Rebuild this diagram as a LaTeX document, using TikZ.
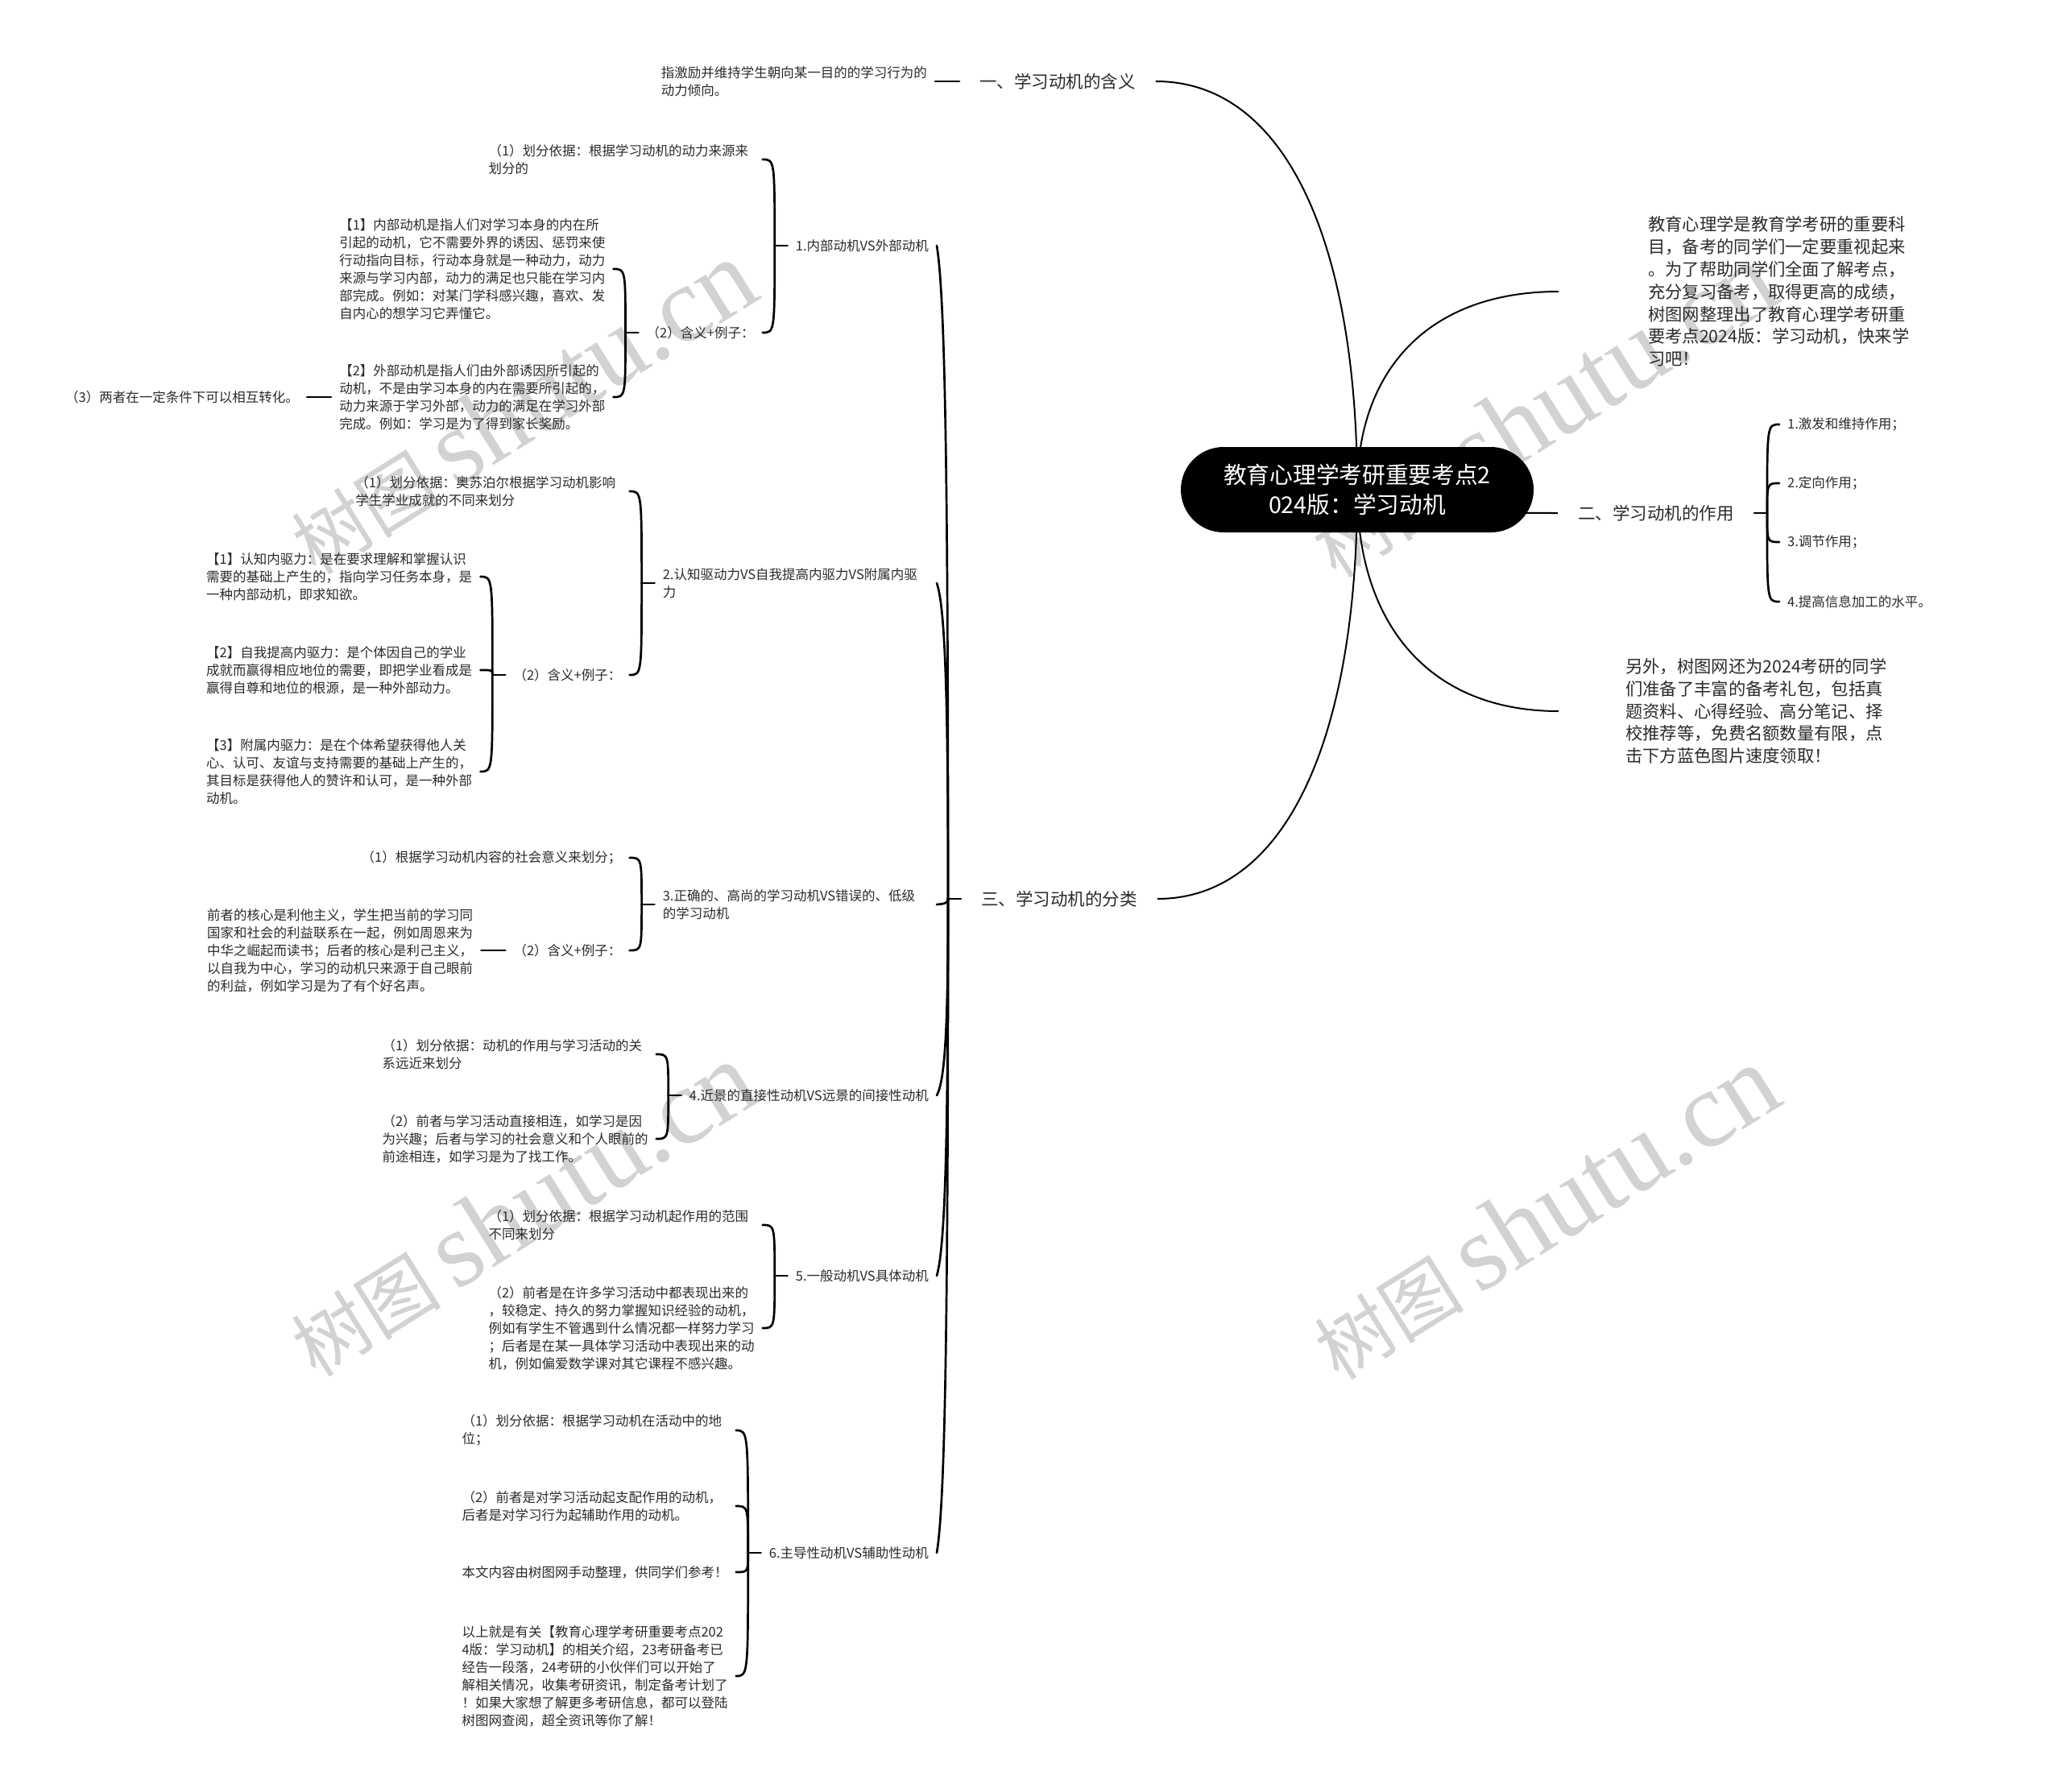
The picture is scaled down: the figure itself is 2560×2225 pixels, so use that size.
\documentclass[tikz,border=0pt]{standalone}
\usepackage{fontspec}
\setmainfont{Noto Sans CJK SC}
\newfontfamily\wmserif{Liberation Serif}
\usetikzlibrary{calc}
\definecolor{txt}{HTML}{2B2B2B}
\definecolor{wmc}{HTML}{D2D2D2}
\newcommand\rootlink[1]{\draw[rlink] (root.center) .. controls ($(root.center)!0.6!(root.center |- #1)$) and ($(#1 -| root.center)!0.35!(#1)$) .. (#1);}
\newcommand\bracelink[2]{\draw[link] (#1) .. controls (#1 |- #2) and (#1 |- #2) .. (#2);}
\newcommand\spinelink[2]{\draw[link] (#1) .. controls ($(#1)!0.6!(#1 |- #2)$) and ($(#2)!0.08!(#1)+(10,0)$) .. (#2);}
\begin{document}
\begin{tikzpicture}[x=1pt,y=-1pt,
  every node/.style={text=txt},
  small/.style={font=\fontsize{16.5}{22}\selectfont, inner xsep=10pt, inner ysep=3pt, align=left},
  smallw/.style={small, text width=330pt},
  lvone/.style={font=\fontsize{21.5}{28}\selectfont, inner xsep=25pt},
  para/.style={font=\fontsize{21.3}{27.8}\selectfont, align=left},
  rootnode/.style={fill=black, text=white, rounded corners=53pt, minimum width=438pt, minimum height=106pt, align=center, font=\fontsize{28.7}{37.5}\selectfont},
  link/.style={line width=2.7pt, line cap=round},
  rlink/.style={line width=2pt},
  wm/.style={text=wmc, rotate=32, inner sep=0pt}
]
\fill[white] (0,0) rectangle (2560,2225);
\useasboundingbox (0,0) rectangle (2560,2225);

% watermarks
\node[wm] (wm1) at (648,506) {\fontsize{93}{93}\selectfont 树图\hspace{19pt}{\wmserif\fontsize{134}{134}\selectfont shutu.cn}};
\node[wm] (wm2) at (1915,510) {\fontsize{93}{93}\selectfont 树图\hspace{19pt}{\wmserif\fontsize{134}{134}\selectfont shutu.cn}};
\node[wm] (wm3) at (648,1502) {\fontsize{93}{93}\selectfont 树图\hspace{19pt}{\wmserif\fontsize{134}{134}\selectfont shutu.cn}};
\node[wm] (wm4) at (1918,1506) {\fontsize{93}{93}\selectfont 树图\hspace{19pt}{\wmserif\fontsize{134}{134}\selectfont shutu.cn}};

% level one labels
\node[lvone, anchor=west] (L1) at (1191,101) {一、学习动机的含义};
\node[lvone, anchor=west] (L3) at (1193,1116) {三、学习动机的分类};
\node[lvone, anchor=west] (L2) at (1934,637) {二、学习动机的作用};
\node[para, anchor=west, inner xsep=111pt] (pa) at (1935,362) {教育心理学是教育学考研的重要科\\目，备考的同学们一定要重视起来\\。为了帮助同学们全面了解考点，\\充分复习备考，取得更高的成绩，\\树图网整理出了教育心理学考研重\\要考点2024版：学习动机，快来学\\习吧！};
\node[para, anchor=west, inner xsep=83pt] (pb) at (1935,883) {另外，树图网还为2024考研的同学\\们准备了丰富的备考礼包，包括真\\题资料、心得经验、高分笔记、择\\校推荐等，免费名额数量有限，点\\击下方蓝色图片速度领取！};

% root links and root
\coordinate (rc) at (1685,608);
\node[rootnode, draw=none, fill=none, text=white] (root) at (rc) {\phantom{x}};
\rootlink{L1.east}
\rootlink{L3.east}
\rootlink{L2.west}
\rootlink{pa.west}
\rootlink{pb.west}
\node[rootnode] (rootbox) at (rc) {教育心理学考研重要考点2\\024版：学习动机};

% branch one
\node[smallw, anchor=east] (def) at ($(L1.west)+(-30,0)$) {指激励并维持学生朝向某一目的的学习行为的\\动力倾向。};
\draw[link] (L1.west) -- (def.east);

% branch two
\coordinate (j2) at ($(L2.east)+(16,0)$);
\coordinate (k2) at ($(j2)+(15,0)$);
\draw[link] (L2.east) -- (j2);
\node[small, anchor=west] (r1) at (k2 |- 0,527) {1.激发和维持作用；};
\node[small, anchor=west] (r2) at (k2 |- 0,600) {2.定向作用；};
\node[small, anchor=west] (r3) at (k2 |- 0,673) {3.调节作用；};
\node[small, anchor=west] (r4) at (k2 |- 0,747) {4.提高信息加工的水平。};
\bracelink{j2}{r1.west}
\bracelink{j2}{r2.west}
\bracelink{j2}{r3.west}
\bracelink{j2}{r4.west}

% branch three spine
\coordinate (s3) at ($(L3.west)+(-16,0)$);
\draw[link] (L3.west) -- (s3);
\node[small, anchor=east] (n1) at (1163,305) {1.内部动机VS外部动机};
\node[smallw, anchor=east] (n2) at (1163,724) {2.认知驱动力VS自我提高内驱力VS附属内驱\\力};
\node[smallw, anchor=east] (n3) at (1163,1123) {3.正确的、高尚的学习动机VS错误的、低级\\的学习动机};
\node[small, anchor=east] (n4) at (1163,1360) {4.近景的直接性动机VS远景的间接性动机};
\node[small, anchor=east] (n5) at (1163,1584) {5.一般动机VS具体动机};
\node[small, anchor=east] (n6) at (1163,1928) {6.主导性动机VS辅助性动机};
\spinelink{s3}{n1.east}
\spinelink{s3}{n2.east}
\spinelink{s3}{n3.east}
\spinelink{s3}{n4.east}
\spinelink{s3}{n5.east}
\spinelink{s3}{n6.east}

% 1
\coordinate (j1) at ($(n1.west)+(-16,0)$);
\coordinate (k1) at ($(j1)+(-15,0)$);
\draw[link] (n1.west) -- (j1);
\node[smallw, anchor=east] (n1a) at (k1 |- 0,198) {（1）划分依据：根据学习动机的动力来源来\\划分的};
\node[small, anchor=east] (n1b) at (k1 |- 0,413) {（2）含义+例子：};
\bracelink{j1}{n1a.east}
\bracelink{j1}{n1b.east}
\coordinate (j1b) at ($(n1b.west)+(-16,0)$);
\coordinate (k1b) at ($(j1b)+(-15,0)$);
\draw[link] (n1b.west) -- (j1b);
\node[smallw, anchor=east] (n1b1) at (k1b |- 0,334) {【1】内部动机是指人们对学习本身的内在所\\引起的动机，它不需要外界的诱因、惩罚来使\\行动指向目标，行动本身就是一种动力，动力\\来源与学习内部，动力的满足也只能在学习内\\部完成。例如：对某门学科感兴趣，喜欢、发\\自内心的想学习它弄懂它。};
\node[smallw, anchor=east] (n1b2) at (k1b |- 0,493) {【2】外部动机是指人们由外部诱因所引起的\\动机，不是由学习本身的内在需要所引起的，\\动力来源于学习外部，动力的满足在学习外部\\完成。例如：学习是为了得到家长奖励。};
\bracelink{j1b}{n1b1.east}
\bracelink{j1b}{n1b2.east}
\node[small, anchor=east] (n1b2a) at ($(n1b2.west)+(-30,0)$) {（3）两者在一定条件下可以相互转化。};
\draw[link] (n1b2.west) -- (n1b2a.east);

% 2
\coordinate (j2x) at ($(n2.west)+(-16,0)$);
\coordinate (k2x) at ($(j2x)+(-15,0)$);
\draw[link] (n2.west) -- (j2x);
\node[smallw, anchor=east] (n2a) at (k2x |- 0,610) {（1）划分依据：奥苏泊尔根据学习动机影响\\学生学业成就的不同来划分};
\node[small, anchor=east] (n2b) at (k2x |- 0,838) {（2）含义+例子：};
\bracelink{j2x}{n2a.east}
\bracelink{j2x}{n2b.east}
\coordinate (j2b) at ($(n2b.west)+(-16,0)$);
\coordinate (k2b) at ($(j2b)+(-15,0)$);
\draw[link] (n2b.west) -- (j2b);
\node[smallw, anchor=east] (n2b1) at (k2b |- 0,716) {【1】认知内驱力：是在要求理解和掌握认识\\需要的基础上产生的，指向学习任务本身，是\\一种内部动机，即求知欲。};
\node[smallw, anchor=east] (n2b2) at (k2b |- 0,832) {【2】自我提高内驱力：是个体因自己的学业\\成就而赢得相应地位的需要，即把学业看成是\\赢得自尊和地位的根源，是一种外部动力。};
\node[smallw, anchor=east] (n2b3) at (k2b |- 0,958) {【3】附属内驱力：是在个体希望获得他人关\\心、认可、友谊与支持需要的基础上产生的，\\其目标是获得他人的赞许和认可，是一种外部\\动机。};
\bracelink{j2b}{n2b1.east}
\bracelink{j2b}{n2b2.east}
\bracelink{j2b}{n2b3.east}

% 3
\coordinate (j3) at ($(n3.west)+(-16,0)$);
\coordinate (k3) at ($(j3)+(-15,0)$);
\draw[link] (n3.west) -- (j3);
\node[small, anchor=east] (n3a) at (k3 |- 0,1065) {（1）根据学习动机内容的社会意义来划分；};
\node[small, anchor=east] (n3b) at (k3 |- 0,1180) {（2）含义+例子：};
\bracelink{j3}{n3a.east}
\bracelink{j3}{n3b.east}
\node[smallw, anchor=east] (n3b1) at ($(n3b.west)+(-30,0)$) {前者的核心是利他主义，学生把当前的学习同\\国家和社会的利益联系在一起，例如周恩来为\\中华之崛起而读书；后者的核心是利己主义，\\以自我为中心，学习的动机只来源于自己眼前\\的利益，例如学习是为了有个好名声。};
\draw[link] (n3b.west) -- (n3b1.east);

% 4
\coordinate (j4) at ($(n4.west)+(-16,0)$);
\coordinate (k4) at ($(j4)+(-15,0)$);
\draw[link] (n4.west) -- (j4);
\node[smallw, anchor=east] (n4a) at (k4 |- 0,1309) {（1）划分依据：动机的作用与学习活动的关\\系远近来划分};
\node[smallw, anchor=east] (n4b) at (k4 |- 0,1414) {（2）前者与学习活动直接相连，如学习是因\\为兴趣；后者与学习的社会意义和个人眼前的\\前途相连，如学习是为了找工作。};
\bracelink{j4}{n4a.east}
\bracelink{j4}{n4b.east}

% 5
\coordinate (j5) at ($(n5.west)+(-16,0)$);
\coordinate (k5) at ($(j5)+(-15,0)$);
\draw[link] (n5.west) -- (j5);
\node[smallw, anchor=east] (n5a) at (k5 |- 0,1521) {（1）划分依据：根据学习动机起作用的范围\\不同来划分};
\node[smallw, anchor=east] (n5b) at (k5 |- 0,1649) {（2）前者是在许多学习活动中都表现出来的\\，较稳定、持久的努力掌握知识经验的动机，\\例如有学生不管遇到什么情况都一样努力学习\\；后者是在某一具体学习活动中表现出来的动\\机，例如偏爱数学课对其它课程不感兴趣。};
\bracelink{j5}{n5a.east}
\bracelink{j5}{n5b.east}

% 6
\coordinate (j6) at ($(n6.west)+(-16,0)$);
\coordinate (k6) at ($(j6)+(-15,0)$);
\draw[link] (n6.west) -- (j6);
\node[smallw, anchor=east] (n6a) at (k6 |- 0,1776) {（1）划分依据：根据学习动机在活动中的地\\位；};
\node[smallw, anchor=east] (n6b) at (k6 |- 0,1870) {（2）前者是对学习活动起支配作用的动机，\\后者是对学习行为起辅助作用的动机。};
\node[smallw, anchor=east] (n6c) at (k6 |- 0,1952) {本文内容由树图网手动整理，供同学们参考！};
\node[smallw, anchor=east] (n6d) at (k6 |- 0,2081) {以上就是有关【教育心理学考研重要考点202\\4版：学习动机】的相关介绍，23考研备考已\\经告一段落，24考研的小伙伴们可以开始了\\解相关情况，收集考研资讯，制定备考计划了\\！如果大家想了解更多考研信息，都可以登陆\\树图网查阅，超全资讯等你了解！};
\bracelink{j6}{n6a.east}
\bracelink{j6}{n6b.east}
\bracelink{j6}{n6c.east}
\bracelink{j6}{n6d.east}
\end{tikzpicture}
\end{document}
